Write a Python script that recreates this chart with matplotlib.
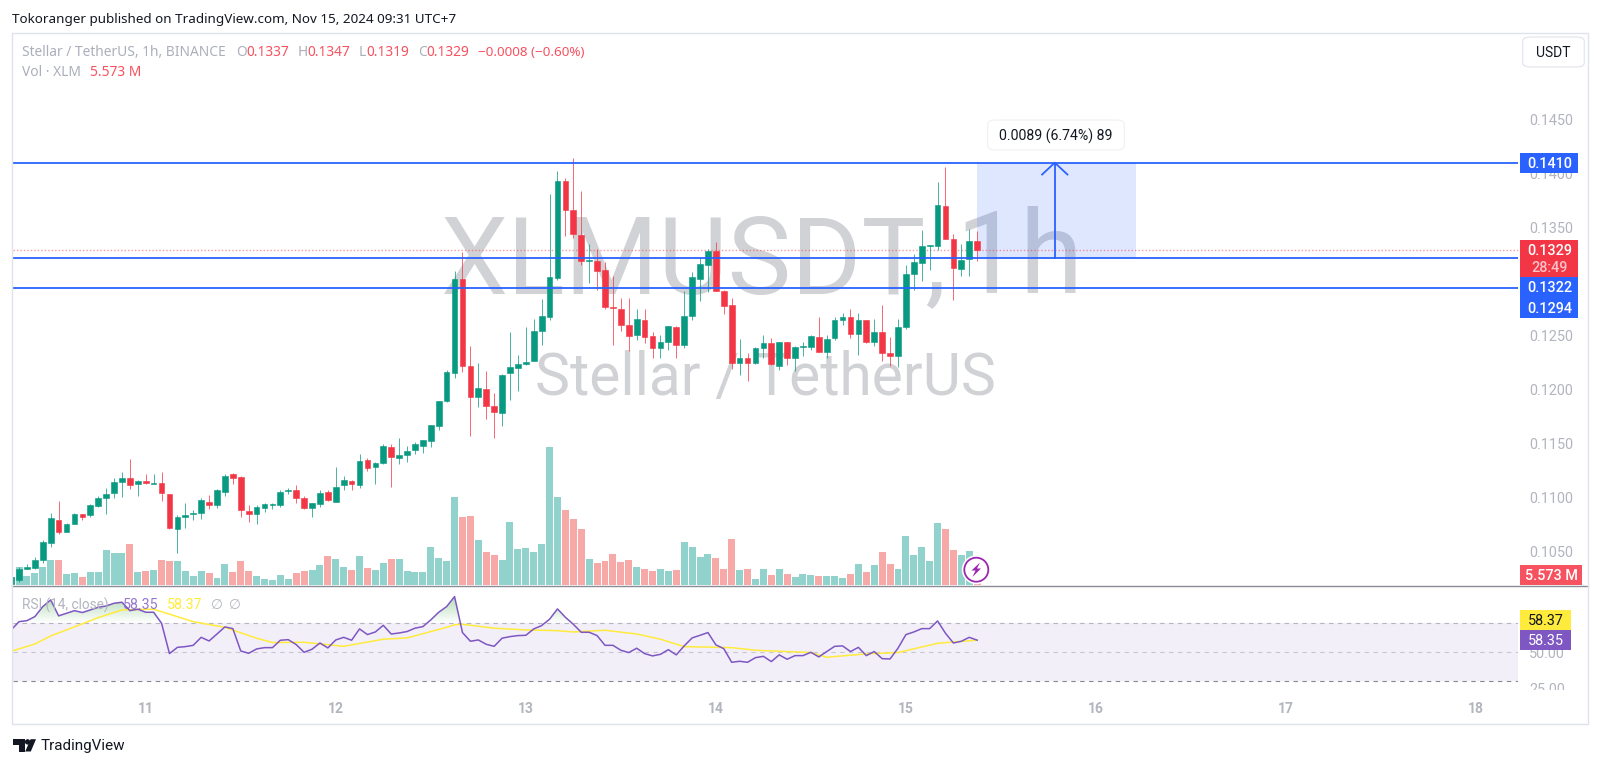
import matplotlib
matplotlib.use("Agg")
import matplotlib.pyplot as plt
import matplotlib.patches as mpatches
from matplotlib.path import Path
from matplotlib.colors import LinearSegmentedColormap
import numpy as np

W, H = 1600, 766
plt.rcParams['font.family'] = ['Roboto', 'DejaVu Sans']

# prices in 1e-5 USDT, read from the candles
opens = [10200, 10231, 10339, 10348, 10416, 10577, 10793, 10676, 10756, 10843, 10833, 10923, 10997, 11040, 11146, 11183,
         11121, 11149, 11127, 11130, 11034, 10710, 10818, 10843, 10852, 10960, 10932, 11047, 11214, 11186, 10871, 10843,
         10898, 10932, 10932, 11059, 11065, 10991, 10901, 10939, 11050, 10957, 11112, 11149, 11115, 11349, 11278, 11319,
         11467, 11368, 11393, 11442, 11476, 11519, 11662, 11890, 12156, 13018, 12212, 11927, 12008, 11844, 11785, 12150,
         12199, 12239, 12261, 12539, 12672, 13034, 13930, 13658, 13429, 13191, 13188, 13105, 12765, 12743, 12595, 12502,
         12641, 12493, 12382, 12437, 12576, 12409, 12681, 13018, 13148, 13284, 12913, 12780, 12246, 12295, 12246, 12385,
         12434, 12221, 12437, 12295, 12394, 12394, 12484, 12344, 12474, 12641, 12666, 12514, 12641, 12437, 12527, 12338,
         12310, 12576, 13068, 13173, 13330, 13330, 13698, 13389, 13117, 13210, 13370]
highs = [10300, 10355, 10385, 10444, 10602, 10855, 10963, 10762, 10855, 10849, 10935, 11013, 11084, 11176, 11232, 11356,
         11164, 11214, 11217, 11232, 11034, 10837, 10945, 10886, 10991, 11025, 11074, 11214, 11226, 11195, 10926, 10926,
         10948, 10948, 11071, 11087, 11118, 11010, 10945, 11071, 11071, 11281, 11198, 11164, 11405, 11368, 11331, 11498,
         11492, 11553, 11479, 11513, 11529, 11668, 11893, 12178, 13095, 13275, 12400, 12242, 12168, 11971, 12147, 12536,
         12314, 12576, 12650, 12833, 13809, 14019, 13954, 14143, 13840, 13346, 13296, 13182, 13052, 12845, 12848, 12743,
         12743, 12527, 12502, 12585, 12585, 12913, 13083, 13213, 13296, 13364, 12925, 12845, 12462, 12341, 12394, 12502,
         12477, 12443, 12443, 12403, 12443, 12502, 12669, 12502, 12666, 12703, 12740, 12709, 12647, 12650, 12777, 12487,
         12650, 13148, 13253, 13475, 13336, 13917, 14056, 13438, 13343, 13482, 13470]
lows = [10180, 10215, 10333, 10339, 10392, 10540, 10657, 10676, 10756, 10787, 10818, 10911, 10849, 10994, 11003, 11078,
        11013, 11124, 11121, 10963, 10707, 10487, 10716, 10790, 10799, 10889, 10898, 11013, 11121, 10815, 10769, 10750,
        10864, 10892, 10911, 11028, 10945, 10889, 10815, 10911, 10963, 10957, 11071, 11071, 11087, 11244, 11121, 11312,
        11096, 11306, 11325, 11399, 11414, 11467, 11621, 11884, 12107, 12162, 11572, 11835, 11726, 11550, 11662, 11899,
        11983, 12227, 12261, 12409, 12647, 13009, 13420, 13404, 13148, 12987, 12919, 12746, 12409, 12539, 12360, 12456,
        12431, 12295, 12295, 12369, 12295, 12385, 12641, 12820, 12901, 12907, 12697, 12190, 12131, 12073, 12239, 12295,
        12224, 12181, 12227, 12171, 12310, 12363, 12344, 12295, 12459, 12592, 12480, 12320, 12431, 12406, 12267, 12218,
        12208, 12555, 12919, 13003, 13105, 13290, 13389, 12827, 13049, 13049, 13190]
closes = [10262, 10339, 10351, 10416, 10583, 10806, 10679, 10753, 10843, 10818, 10926, 10994, 11034, 11139, 11183, 11115,
          11149, 11130, 11136, 11040, 10719, 10818, 10837, 10852, 10976, 10932, 11065, 11198, 11180, 10883, 10843, 10908,
          10935, 10939, 11050, 11068, 10997, 10898, 10945, 11040, 10972, 11099, 11164, 11121, 11337, 11272, 11322, 11476,
          11371, 11396, 11427, 11495, 11529, 11668, 11890, 12159, 13021, 12215, 11927, 12011, 11847, 11794, 12131, 12205,
          12239, 12258, 12542, 12684, 13043, 13930, 13661, 13438, 13191, 13200, 13092, 12762, 12755, 12592, 12496, 12650,
          12484, 12385, 12437, 12585, 12412, 12684, 13037, 13160, 13284, 12913, 12774, 12246, 12289, 12246, 12382, 12428,
          12236, 12437, 12289, 12394, 12400, 12493, 12344, 12462, 12641, 12666, 12517, 12641, 12437, 12527, 12341, 12310,
          12576, 13068, 13176, 13330, 13336, 13707, 13389, 13120, 13197, 13370, 13290]

# hourly volume in millions of XLM
volumes = [17.6, 39.6, 20.5, 26.4, 39.6, 55.7, 55.7, 24.2, 26.4, 18.3, 28.6, 28.6, 77, 69.7, 69.7, 90.2, 28.6, 30.8, 33,
           55.7, 52.1, 53.5, 30.8, 20.5, 30.8, 26.4, 15.4, 46.2, 28.6, 53.5, 30.8, 20.5, 13.9, 11.7, 22, 13.9, 26.4,
           30.8, 33, 44, 63.8, 57.9, 39.6, 33, 63.8, 38.1, 33, 48.4, 57.2, 57.2, 30.8, 28.6, 28.6, 83.6, 59.4, 53.5,
           193.6, 149.6, 151.8, 99, 71.9, 66, 55.7, 137.9, 79.2, 81.4, 73.3, 90.2, 303.6, 193.6, 165, 145.2, 122.5,
           57.2, 48.4, 53.5, 67.5, 49.9, 55.7, 39.6, 34.5, 30.8, 35.9, 30.8, 33, 94.6, 83.6, 61.6, 68.2, 59.4, 34.5,
           101.2, 33, 34.5, 13.9, 34.5, 21.3, 34.5, 24.2, 18.3, 24.2, 22, 20.5, 20.5, 20.5, 15.4, 24.2, 46.2, 28.6, 44,
           73.3, 46.2, 35.9, 107.8, 66, 83.6, 52.1, 135.7, 123.9, 77, 66, 74.8, 5.573]

rsi = [65.4, 71.1, 71.8, 74.6, 81.5, 86.1, 75.1, 76.9, 78.7, 77.4, 79.2, 81.0, 81.9, 83.8, 84.5, 78.7, 79.7, 77.6, 77.6,
       70.0, 49.1, 53.4, 53.9, 54.8, 60.3, 57.8, 62.6, 67.5, 66.3, 50.9, 49.3, 52.3, 53.2, 53.2, 58.3, 58.7, 55.3, 50.0,
       52.1, 56.4, 53.0, 58.5, 60.3, 58.3, 66.1, 62.2, 64.0, 68.6, 62.6, 63.3, 64.3, 66.6, 67.7, 72.3, 77.6, 81.5, 88.4,
       63.6, 57.6, 58.5, 55.5, 54.1, 59.7, 60.8, 61.5, 61.7, 66.1, 68.4, 72.8, 79.9, 74.1, 69.3, 63.8, 63.8, 61.5, 54.8,
       54.8, 51.4, 49.8, 52.8, 49.1, 47.5, 48.6, 51.8, 48.2, 54.4, 59.9, 61.7, 63.6, 55.1, 52.5, 43.1, 43.8, 43.1, 46.3,
       47.2, 43.6, 48.2, 45.2, 47.7, 47.7, 50.0, 46.8, 50.5, 54.1, 54.4, 50.5, 53.4, 47.7, 50.5, 45.6, 45.4, 52.8, 62.2,
       64.0, 66.3, 66.3, 71.6, 63.1, 56.4, 57.6, 60.3, 58.35]

# rsi moving average, read at these bars
ma_bars = [0, 3, 5, 8, 11, 14, 18, 23, 27, 31, 33, 37, 42, 47, 50, 55, 56, 57, 61, 65, 69, 71, 75, 79, 82, 85, 91, 94,
           101, 103, 108, 112, 117, 119, 122]
ma_vals = [50.7, 55.7, 61.3, 67.5, 73.9, 79.2, 79.7, 71.1, 67.2, 59.7, 56.7, 56.9, 54.1, 59.0, 59.9, 67.2, 68.9, 69.3,
           66.6, 65.4, 64.9, 64.0, 65.2, 62.6, 59.0, 53.9, 53.2, 51.4, 49.8, 46.6, 48.9, 49.8, 56.2, 57.1, 58.37]

day_bars = [17, 41, 65, 89, 113, 137, 161, 185]
day_labels = ["11", "12", "13", "14", "15", "16", "17", "18"]
# 0.1300 and 75.00 sit fully behind the price tags, so they are left out
price_ticks = [0.1050, 0.1100, 0.1150, 0.1200, 0.1250, 0.1350, 0.1400, 0.1450]
rsi_ticks = [25, 50]
level_lines = [0.1410, 0.1322, 0.1294]
last_price = 0.1329
range_bars = [122, 142]
range_arrow_bar = 131.8
range_prices = [0.1322, 0.1410]

GREEN = "#089981"
RED = "#F23645"
BLUE = "#2962FF"
GREY = "#B2B5BE"
FRAME = "#E0E3EB"
PURPLE = "#7E57C2"
YELLOW = "#FFEB3B"
NOTO = ["Noto Sans", "DejaVu Sans"]


def fx(x):
    return x / W


def fy(y):
    return 1 - y / H


def pane(x0, y0, x1, y1):
    return [fx(x0), fy(y1), (x1 - x0) / W, (y1 - y0) / H]


def label(x, y, s, size=10, color=GREY, ha="left", **kw):
    return fig.text(fx(x), fy(y), s, fontsize=size, color=color, ha=ha, va="center", **kw)


def tag(x0, y0, x1, y1, color):
    fig.patches.append(mpatches.Rectangle((fx(x0), fy(y1)), (x1 - x0) / W, (y1 - y0) / H, transform=fig.transFigure,
                                          facecolor=color, edgecolor="none", zorder=5))


fig = plt.figure(figsize=(W / 100, H / 100), dpi=100)

o = np.array(opens) / 1e5
h = np.array(highs) / 1e5
l = np.array(lows) / 1e5
c = np.array(closes) / 1e5
x = np.arange(len(o))
up = c >= o

xlim = (0.2, 190.3)

# big watermark sits behind all the panes
wm = dict(color="#D1D2D6", ha="left", va="baseline", zorder=-1, family="Roboto")
fig.text(fx(441), fy(293), "XLMUSDT,", fontsize=77, **wm)
fig.text(fx(955), fy(293), "1h", fontsize=83, **wm)
fig.text(fx(535), fy(395), "Stellar / TetherUS", fontsize=42.3, **wm)

# volume
ax_vol = fig.add_axes(pane(12.7, 33, 1518, 585))
ax_vol.patch.set_alpha(0)
ax_vol.bar(x, volumes, width=0.88, color=np.where(up, "#92D2CC", "#F7A9A7"))
ax_vol.set_xlim(xlim)
ax_vol.set_ylim(0, 1214)
ax_vol.axis("off")

# candles
ax = fig.add_axes(pane(12.7, 33, 1518, 585))
ax.patch.set_alpha(0)
colors = np.where(up, GREEN, RED)
ax.vlines(x, l, h, colors=colors, lw=0.7, alpha=0.75, zorder=2)
ax.bar(x, np.abs(c - o), bottom=np.minimum(o, c), width=0.72, color=colors, edgecolor=colors, lw=0.4, zorder=3)
for p in level_lines:
    ax.axhline(p, color=BLUE, lw=1.3, zorder=4)
ax.axhline(last_price, color=RED, lw=1, ls=(0, (1, 1.5)), alpha=0.5, zorder=1.8)

# price range drawing
ax.fill_between(range_bars, range_prices[0], range_prices[1], color=BLUE, alpha=0.15, lw=0, zorder=1.5)
ax.plot([range_arrow_bar, range_arrow_bar], range_prices, color=BLUE, lw=1.3, zorder=4)
ax.plot([range_arrow_bar - 1.6, range_arrow_bar, range_arrow_bar + 1.6],
        [range_prices[1] - 0.0011, range_prices[1], range_prices[1] - 0.0011], color=BLUE, lw=1.3, zorder=4)

ax.set_xlim(xlim)
ax.set_ylim(0.10188, 0.15301)
ax.set_xticks([])
ax.yaxis.tick_right()
ax.set_yticks(price_ticks)
ax.set_yticklabels(["{:.4f}".format(p) for p in price_ticks])
ax.tick_params(axis="y", length=0, pad=7.9, labelsize=10.4, labelcolor=GREY)
for s in ax.spines.values():
    s.set_visible(False)

# rsi pane
ax_rsi = fig.add_axes(pane(12.7, 587, 1518, 690))
ax_rsi.patch.set_alpha(0)
rx = np.arange(len(rsi))
rv = np.array(rsi)
ax_rsi.axhspan(30, 70, color=PURPLE, alpha=0.09, lw=0, zorder=0)
ax_rsi.axhline(70, color="#787B86", lw=0.8, ls=(0, (4, 4)), alpha=0.5, zorder=1)
ax_rsi.axhline(50, color="#787B86", lw=0.8, ls=(0, (4, 4)), alpha=0.35, zorder=1)
ax_rsi.axhline(30, color="#787B86", lw=0.8, ls=(0, (4, 4)), alpha=0.9, zorder=1)

# green fade above the 70 band
over = ax_rsi.fill_between(rx, 70, rv, where=rv > 70, interpolate=True, facecolor="none", lw=0)
grad_cmap = LinearSegmentedColormap.from_list("fade", ["#FFFFFF", "#A5D6A7"])
grad = ax_rsi.imshow(np.linspace(1, 0, 64).reshape(-1, 1), extent=(xlim[0], xlim[1], 70, 92), aspect="auto",
                     cmap=grad_cmap, zorder=0.5)
grad.set_clip_path(Path.make_compound_path(*over.get_paths()), transform=ax_rsi.transData)

ax_rsi.plot(ma_bars, ma_vals, color=YELLOW, lw=1.1, zorder=2)
ax_rsi.plot(rx, rv, color=PURPLE, lw=1.1, zorder=3)
ax_rsi.set_xlim(xlim)
ax_rsi.set_ylim(24, 95)
ax_rsi.yaxis.tick_right()
ax_rsi.set_yticks(rsi_ticks)
ax_rsi.set_yticklabels(["{:.2f}".format(v) for v in rsi_ticks])
ax_rsi.set_xticks(day_bars)
ax_rsi.set_xticklabels(day_labels, fontweight="bold")
ax_rsi.tick_params(axis="y", length=0, pad=7.9, labelsize=10.4, labelcolor=GREY)
ax_rsi.tick_params(axis="x", length=0, pad=8.5, labelsize=10, labelcolor=GREY)
for s in ax_rsi.spines.values():
    s.set_visible(False)

# outer frame and pane separator
fig.patches.append(mpatches.Rectangle((fx(12), fy(723.5)), (1587.5 - 12) / W, (723.5 - 32.5) / H,
                                      transform=fig.transFigure, facecolor="none", edgecolor=FRAME, lw=1, zorder=4))
fig.add_artist(plt.Line2D([fx(12), fx(1587.5)], [fy(585.5), fy(585.5)], color="#8A8D96", lw=1, zorder=4))

# right side tags
tag(1520, 690, 1586, 700, "white")
tag(1520, 153, 1578, 173, BLUE)
tag(1520, 240, 1578, 277, RED)
tag(1520, 277, 1578, 318, BLUE)
tag(1520, 565, 1582, 585, "#F7525F")
tag(1520, 610, 1571, 630, YELLOW)
tag(1520, 630, 1571, 650, PURPLE)
top = dict(zorder=6, ha="center", size=10.4)
label(1550, 164, "0.1410", color="white", fontweight="medium", **top)
label(1550, 251, "0.1329", color="white", fontweight="medium", **top)
label(1550, 268, "28:49", color="#FBC4CA", fontweight="medium", **top)
label(1550, 288, "0.1322", color="white", fontweight="medium", **top)
label(1550, 309, "0.1294", color="white", fontweight="medium", **top)
label(1551, 575.5, "5.573 M", color="white", fontweight="medium", **top)
label(1546, 621, "58.37", color="#131722", **top)
label(1546, 641, "58.35", color="white", **top)

# header and legends
label(12, 19, "Tokoranger published on TradingView.com, Nov 15, 2024 09:31 UTC+7", color="#131722", size=9.7, family=NOTO)
label(22, 53, "Stellar / TetherUS, 1h, BINANCE", size=9.9, color="#ABAFBA", family=NOTO)
for px, s in [(236, "O"), (298, "H"), (359, "L"), (418, "C")]:
    label(px, 53, s, size=9.9, color="#ABAFBA", family=NOTO)
for px, s in [(246, "0.1337"), (307, "0.1347"), (366, "0.1319"), (426, "0.1329")]:
    label(px, 53, s, size=9.9, color="#F7525F", family=NOTO)
label(478, 53, "\u22120.0008 (\u22120.60%)", size=9.7, color="#F7525F", family=NOTO)
label(22, 73, "Vol \u00b7 XLM", size=9.9, color="#ABAFBA", family=NOTO)
label(90, 73, "5.573 M", size=9.9, color="#F7525F", family=NOTO)

label(22, 605, "RSI (14, close)", size=9.8, color=GREY, zorder=6)
label(123, 605, "58.35", size=10.2, color=PURPLE, alpha=0.8, zorder=6)
label(167, 605, "58.37", size=10.2, color=YELLOW, zorder=6)
label(211, 605, "\u2205", size=9.8, color=GREY, zorder=6)
label(229, 605, "\u2205", size=9.8, color=GREY, zorder=6)

# measure tooltip
fig.patches.append(mpatches.FancyBboxPatch((fx(994), fy(147)), 124 / W, 24 / H,
                                           boxstyle=mpatches.BoxStyle("Round", pad=3 / H, rounding_size=4 / H),
                                           transform=fig.transFigure, facecolor="white", edgecolor="#EFF0F3", lw=0.8,
                                           zorder=5))
label(1056, 136, "0.0089 (6.74%) 89", color="#131722", size=10.2, zorder=6, ha="center")

# currency button
fig.patches.append(mpatches.FancyBboxPatch((fx(1529), fy(64)), 49 / W, 24 / H,
                                           boxstyle=mpatches.BoxStyle("Round", pad=3 / H, rounding_size=4 / H),
                                           transform=fig.transFigure, facecolor="white", edgecolor=FRAME, lw=0.8,
                                           zorder=5))
label(1553, 53, "USDT", color="#131722", size=10, zorder=6, ha="center")


def poly(points, color, zorder=6):
    fig.patches.append(mpatches.Polygon([(fx(a), fy(b)) for a, b in points], closed=True, transform=fig.transFigure,
                                        facecolor=color, edgecolor="none", zorder=zorder))


def circle(cx, cy, r, face, edge="none", lw=0):
    e = mpatches.Ellipse((fx(cx), fy(cy)), 2 * r / W, 2 * r / H, transform=fig.transFigure, facecolor=face,
                         edgecolor=edge, lw=lw, zorder=6)
    fig.patches.append(e)


# lightning badge
circle(976.3, 569.7, 14.5, "white")
circle(976.3, 569.7, 12, "white", "#9C27B0", 1.3)
poly([(980, 562.5), (971.5, 570.5), (975.5, 570.5), (972.5, 577), (981, 568.5), (977, 568.5)], "#9C27B0", zorder=7)

# logo
poly([(12.8, 739.2), (24.5, 739.2), (24.5, 751.5), (19, 751.5), (19, 744.6), (12.8, 744.6)], "#131722")
circle(27.6, 741.9, 2.7, "#131722")
poly([(36, 739.2), (30.8, 751.5), (25.2, 751.5), (30.6, 739.2)], "#131722")
label(41, 746, "TradingView", color="#131722", size=11)

fig.savefig("out.png", dpi=100)
